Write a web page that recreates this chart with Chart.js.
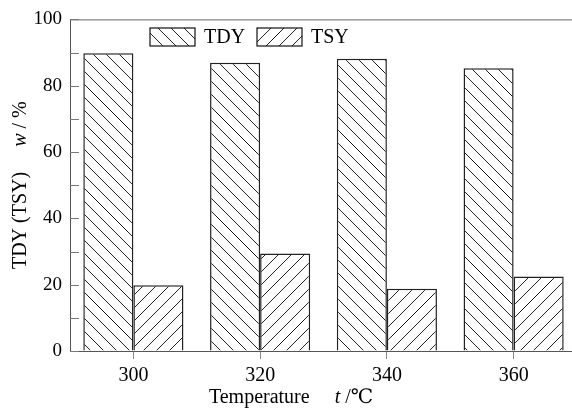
<!DOCTYPE html>
<html>
<head>
<meta charset="utf-8">
<script src="https://cdn.jsdelivr.net/npm/chart.js@4.4.1/dist/chart.umd.min.js"></script>
<style>
  html, body { margin: 0; padding: 0; background: #fff; overflow: hidden; }
  canvas { display: block; }
</style>
</head>
<body>
<canvas id="barChart" width="580" height="408"></canvas>
<script>
// values
const temperatures = ['300', '320', '340', '360'];
const tdyValues = [89.8, 86.9, 88.1, 85.3];
const tsyValues = [19.8, 29.4, 18.8, 22.5];
const seriesNames = ['TDY', 'TSY'];
const yTicks = [0, 20, 40, 60, 80, 100];

const FONT = '"Liberation Serif", "DejaVu Serif", serif';

function hatch(backslash) {
    const s = 13;
    const c = document.createElement('canvas');
    c.width = s; c.height = s;
    const g = c.getContext('2d');
    g.fillStyle = '#fff';
    g.fillRect(0, 0, s, s);
    g.strokeStyle = '#222';
    g.lineWidth = 1;
    g.beginPath();
    for (let k = -1; k <= 1; k++) {
        if (backslash) {
            g.moveTo(k * s, 0);
            g.lineTo(k * s + s, s);
        } else {
            g.moveTo(k * s, s);
            g.lineTo(k * s + s, 0);
        }
    }
    g.stroke();
    return g.createPattern(c, 'repeat');
}

var ctx = document.getElementById('barChart').getContext('2d');
var tdyPattern = hatch(true);
var tsyPattern = hatch(false);

function drawParts(c, parts, x, y) {
    var total = 0;
    parts.forEach(p => {
        c.font = (p.italic ? 'italic ' : '') + '20px ' + FONT;
        p.w = c.measureText(p.text).width;
        total += p.w;
    });
    var pos = x - total / 2;
    parts.forEach(p => {
        c.font = (p.italic ? 'italic ' : '') + '20px ' + FONT;
        c.fillText(p.text, pos, y);
        pos += p.w;
    });
}

const decorations = {
    id: 'decorations',
    afterDraw(chart) {
        const c = chart.ctx;
        const area = chart.chartArea;
        const yScale = chart.scales.y;
        c.save();

        // top frame line
        c.strokeStyle = '#666';
        c.lineWidth = 1;
        c.beginPath();
        c.moveTo(area.left, area.top + 0.5);
        c.lineTo(chart.width, area.top + 0.5);
        c.stroke();

        // inward y tick marks
        c.strokeStyle = '#777';
        c.beginPath();
        yScale.ticks.forEach(t => {
            const py = Math.round(yScale.getPixelForValue(t.value)) + 0.5;
            c.moveTo(area.left, py);
            c.lineTo(area.left + 9, py);
        });
        c.stroke();

        // legend inside the plot
        const boxes = [
            { x: 150, pattern: tdyPattern, label: seriesNames[0] },
            { x: 257, pattern: tsyPattern, label: seriesNames[1] }
        ];
        boxes.forEach(b => {
            c.fillStyle = b.pattern;
            c.fillRect(b.x, 28, 45, 18);
            c.strokeStyle = '#111';
            c.lineWidth = 1.2;
            c.strokeRect(b.x, 28, 45, 18);
            c.fillStyle = '#000';
            c.font = '20px ' + FONT;
            c.textBaseline = 'middle';
            c.textAlign = 'left';
            c.fillText(b.label, b.x + 54, 38);
        });

        // axis titles
        c.fillStyle = '#000';
        c.textBaseline = 'middle';
        c.textAlign = 'left';
        drawParts(c, [
            { text: 'Temperature     ' },
            { text: 't', italic: true },
            { text: ' /\u2103' }
        ], 291, 398);

        c.translate(21, (area.top + area.bottom) / 2);
        c.rotate(-Math.PI / 2);
        drawParts(c, [
            { text: 'TDY (TSY)     ' },
            { text: 'w', italic: true },
            { text: ' / %' }
        ], 0, 0);
        c.restore();
    }
};

var newChart = new Chart(ctx, {
    type: 'bar',
    data: {
        labels: temperatures,
        datasets: [{
            label: seriesNames[0],
            data: tdyValues,
            backgroundColor: tdyPattern,
            borderColor: '#222',
            borderWidth: 1.5
        }, {
            label: seriesNames[1],
            data: tsyValues,
            backgroundColor: tsyPattern,
            borderColor: '#222',
            borderWidth: 1.5
        }]
    },
    options: {
        responsive: false,
        animation: false,
        devicePixelRatio: 1,
        layout: { padding: { top: 18, right: 3, left: 0, bottom: 0 } },
        datasets: {
            bar: { categoryPercentage: 0.79, barPercentage: 1.0 }
        },
        scales: {
            x: {
                offset: true,
                grid: {
                    offset: false,
                    drawOnChartArea: false,
                    drawTicks: true,
                    tickLength: 8,
                    tickColor: '#888'
                },
                border: { display: true, color: '#555', width: 1 },
                ticks: {
                    color: '#000',
                    padding: 5,
                    font: { family: FONT, size: 20 }
                },
                afterFit: function (scale) { scale.height = 57; }
            },
            y: {
                min: 0,
                max: 100,
                grid: { drawOnChartArea: false, drawTicks: false },
                border: { display: true, color: '#555', width: 1 },
                ticks: {
                    stepSize: 10,
                    padding: 8,
                    color: '#000',
                    font: { family: FONT, size: 19 },
                    callback: function (v) { return yTicks.includes(v) ? String(v) : ''; }
                },
                afterFit: function (scale) { scale.width = 70; }
            }
        },
        plugins: {
            legend: { display: false },
            tooltip: { enabled: false }
        }
    },
    plugins: [decorations]
});
</script>
</body>
</html>
